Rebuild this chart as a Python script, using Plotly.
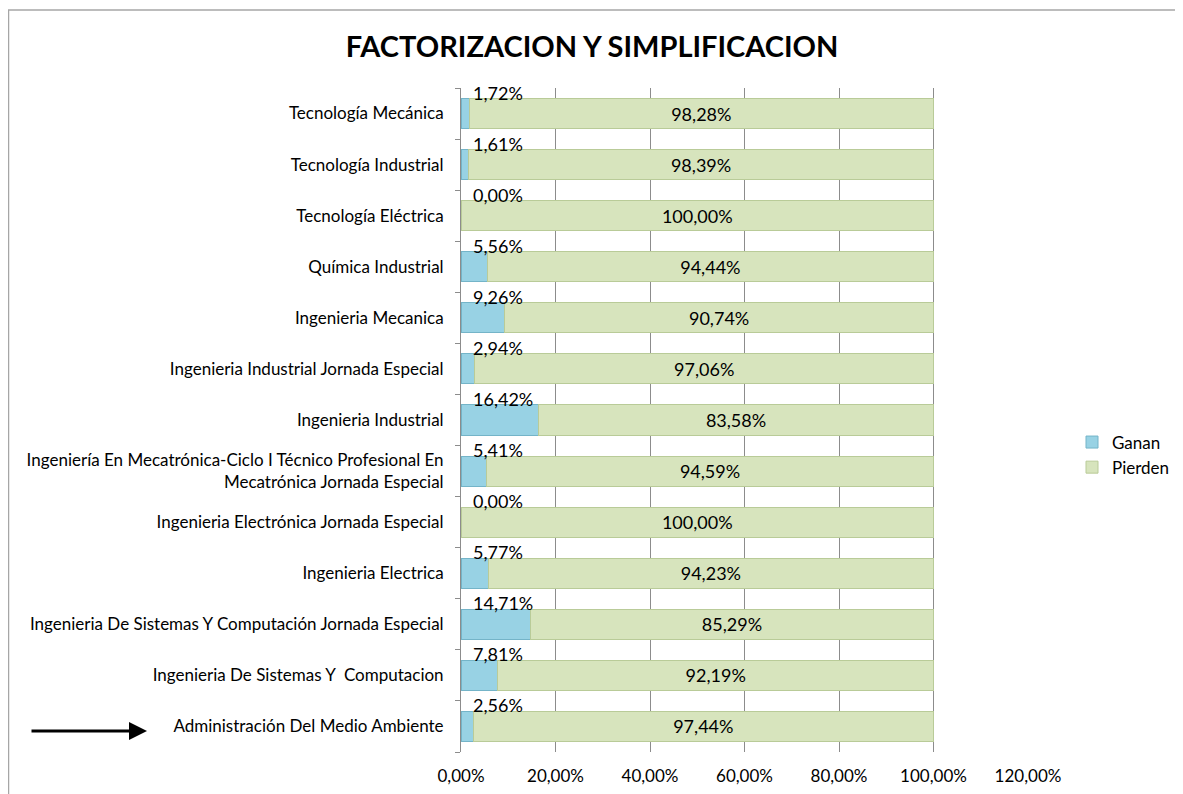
import plotly.graph_objects as go

# ── Data (bottom to top, as drawn) ─────────────────────────────────────────────
CATEGORIES = [
    "Administración Del Medio Ambiente",
    "Ingenieria De Sistemas Y  Computacion",
    "Ingenieria De Sistemas Y Computación Jornada Especial",
    "Ingenieria Electrica",
    "Ingenieria Electrónica Jornada Especial",
    "Ingeniería En Mecatrónica-Ciclo I Técnico Profesional En<br>Mecatrónica Jornada Especial",
    "Ingenieria Industrial",
    "Ingenieria Industrial Jornada Especial",
    "Ingenieria Mecanica",
    "Química Industrial",
    "Tecnología Eléctrica",
    "Tecnología Industrial",
    "Tecnología Mecánica",
]
GANAN = [2.56, 7.81, 14.71, 5.77, 0.00, 5.41, 16.42, 2.94, 9.26, 5.56, 0.00, 1.61, 1.72]
PIERDEN = [97.44, 92.19, 85.29, 94.23, 100.00, 94.59, 83.58, 97.06, 90.74, 94.44, 100.00, 98.39, 98.28]
X_TICKS = [0, 20, 40, 60, 80, 100, 120]
X_TICK_LABELS = ["0,00%", "20,00%", "40,00%", "60,00%", "80,00%", "100,00%", "120,00%"]

# ── Style ──────────────────────────────────────────────────────────────────────
FONT = "Lato, 'Open Sans', sans-serif"
BLUE = "#98D2E4"
BLUE_EDGE = "#74B4C8"
GREEN = "#D7E4BD"
GREEN_EDGE = "#B9CB98"
GRID = "#8C8C8C"

# the page adds an 8px body margin, so the figure is laid out 8px up/left
PLOT_L, PLOT_T, PLOT_W, PLOT_H = 453, 80, 567, 664


def fmt(v):
    return f"{v:.2f}%".replace(".", ",")


fig = go.Figure()
fig.add_trace(go.Bar(
    name="Ganan", y=CATEGORIES, x=GANAN, orientation="h",
    marker=dict(color=BLUE, line=dict(color=BLUE_EDGE, width=1)),
    hoverinfo="x+y",
))
fig.add_trace(go.Bar(
    name="Pierden", y=CATEGORIES, x=PIERDEN, orientation="h",
    marker=dict(color=GREEN, line=dict(color=GREEN_EDGE, width=1)),
    text=[fmt(v) for v in PIERDEN], texttemplate="%{text}",
    textposition="inside", insidetextanchor="middle",
    textfont=dict(family=FONT, size=18, color="#000000"),
    hoverinfo="x+y",
))

# Ganan labels sit just above each bar, near the axis
for cat, val in zip(CATEGORIES, GANAN):
    fig.add_annotation(
        x=2.2, y=cat, xref="x", yref="y",
        text=fmt(val),
        showarrow=False, xanchor="left", yshift=21,
        font=dict(family=FONT, size=18, color="#000000"),
    )

# arrow pointing at the first category
fig.add_annotation(
    x=(139 - PLOT_L) / PLOT_W, y=(PLOT_T + PLOT_H - 723) / PLOT_H,
    xref="paper", yref="paper",
    ax=-117, ay=0, text="", showarrow=True,
    arrowhead=2, arrowsize=1.2, arrowwidth=3, arrowcolor="#000000",
)

# chart border
fig.add_shape(
    type="rect", xref="paper", yref="paper",
    x0=(0.5 - PLOT_L) / PLOT_W, x1=1.4,
    y0=-0.2, y1=(PLOT_T + PLOT_H - 2) / PLOT_H,
    line=dict(color="#A6A6A6", width=1.5), layer="below",
)

fig.update_layout(
    width=1183, height=794,
    barmode="stack", bargap=0.41,
    plot_bgcolor="white", paper_bgcolor="white",
    font=dict(family=FONT, size=17, color="#000000"),
    margin=dict(l=PLOT_L, r=1183 - PLOT_L - PLOT_W, t=PLOT_T,
                b=794 - PLOT_T - PLOT_H, autoexpand=False),
    title=dict(
        text="<b>FACTORIZACION Y SIMPLIFICACION</b>",
        x=584 / 1183, xref="container", xanchor="center",
        y=1 - 39 / 794, yref="container", yanchor="middle",
        font=dict(family=FONT, size=29, color="#000000"),
    ),
    xaxis=dict(
        range=[0, 120], tickvals=X_TICKS, ticktext=X_TICK_LABELS,
        showgrid=True, gridcolor=GRID, gridwidth=1,
        zeroline=False, showline=False, ticks="",
        ticklabelstandoff=12,
        tickfont=dict(family=FONT, size=17),
    ),
    yaxis=dict(
        range=[-0.5, len(CATEGORIES) - 0.5],
        showline=True, linecolor=GRID, linewidth=1,
        ticks="outside", tickson="boundaries", ticklen=5, tickcolor=GRID,
        showgrid=False, ticklabelstandoff=13,
        tickfont=dict(family=FONT, size=17),
    ),
    legend=dict(
        x=(1064 - PLOT_L) / PLOT_W, y=(PLOT_T + PLOT_H - 447) / PLOT_H,
        xanchor="left", yanchor="middle",
        font=dict(family=FONT, size=17), itemwidth=30,
        traceorder="normal",
    ),
)

fig.write_html("out.html")
